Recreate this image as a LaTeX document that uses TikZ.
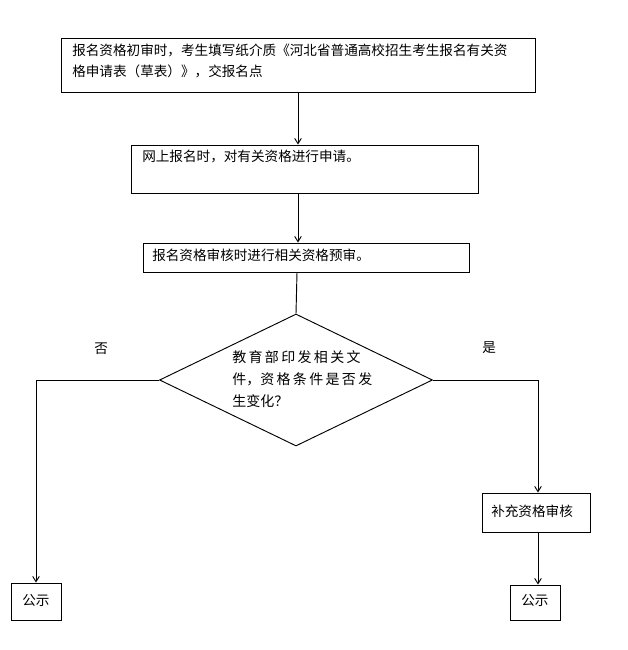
\documentclass[tikz,border=0pt]{standalone}
\usepackage{fontspec}
\setmainfont{Noto Sans CJK SC}
\usetikzlibrary{shapes.geometric,arrows.meta}
\begin{document}
\begin{tikzpicture}[x=0.75pt,y=-0.75pt,
  box/.style={draw,line width=0.7pt,inner sep=0pt},
  txt/.style={inner sep=0pt,anchor=north west,align=left,font=\fontsize{10.2pt}{15.75pt}\selectfont},
  conn/.style={line width=0.7pt},
  arr/.style={line width=0.7pt,-{Straight Barb[length=4pt,width=5pt]}}]
\useasboundingbox (0,0) rectangle (628,650);
\fill[white] (0,0) rectangle (628,650);
% boxes
\node[box,minimum width=474*0.75pt,minimum height=54*0.75pt] (b1) at (298,65) {};
\node[txt] (t1) at (72,44) {报名资格初审时，考生填写纸介质《河北省普通高校招生考生报名有关资\\格申请表（草表）》，交报名点};
\node[box,minimum width=347*0.75pt,minimum height=48*0.75pt] (b2) at (304.5,169) {};
\node[txt] (t2) at (142,150) {网上报名时，对有关资格进行申请。};
\node[box,minimum width=326*0.75pt,minimum height=29*0.75pt] (b3) at (306,257.5) {};
\node[txt] (t3) at (152,249) {报名资格审核时进行相关资格预审。};
\node[draw,shape=diamond,line width=0.7pt,inner sep=0pt,minimum width=273*0.75pt,minimum height=132*0.75pt] (d) at (296,380) {};
\node[txt,font=\fontsize{10.5pt}{16.5pt}\selectfont] (td) at (232,350) {教\,育\,部\,印\,发\,相\,关\,文\\件，资\,格\,条\,件\,是\,否\,发\\生变化？};
\node[box,minimum width=108*0.75pt,minimum height=39*0.75pt] (b4) at (536,512.5) {};
\node[txt] (t4) at (491,505) {补充资格审核};
\node[box,minimum width=50*0.75pt,minimum height=37*0.75pt] (p1) at (36,601.5) {};
\node[txt] (tp1) at (22,594) {公示};
\node[box,minimum width=50*0.75pt,minimum height=35*0.75pt] (p2) at (535,602.5) {};
\node[txt] (tp2) at (521,594) {公示};
% labels
\node[txt] (no) at (94,343) {否};
\node[txt] (yes) at (482,341) {是};
% connectors
\draw[arr] (b1.south -| 298,0) -- (b2.north -| 298,0);
\draw[arr] (b2.south -| 298,0) -- (b3.north -| 298,0);
\draw[conn] (b3.south -| 297,0) -- (d.north);
\coordinate (lc) at (36,380);
\coordinate (rc) at (538,380);
\draw[arr] (d.west) -- (lc) -- (p1.north -| lc);
\draw[arr] (d.east) -- (rc) -- (b4.north -| rc);
\draw[arr] (b4.south -| rc) -- (p2.north -| rc);
\end{tikzpicture}
\end{document}
